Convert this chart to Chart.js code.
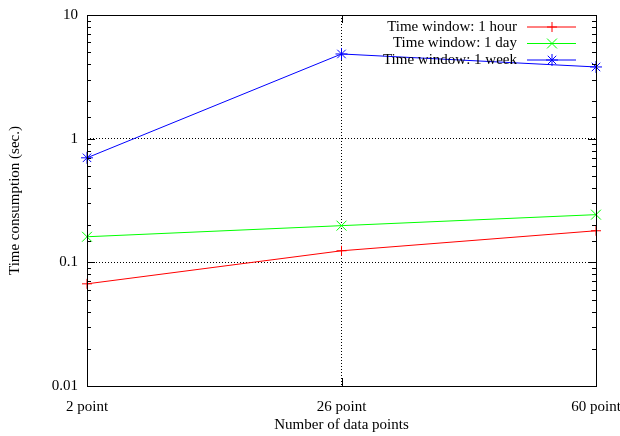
<!DOCTYPE html>
<html>
<head>
<meta charset="utf-8">
<script src="https://cdn.jsdelivr.net/npm/chart.js@4"></script>
<style>
  html, body { margin: 0; padding: 0; background: #fff; }
  #wrap { width: 620px; height: 436px; }
</style>
</head>
<body>
<div id="wrap"><canvas id="myChart"></canvas></div>
<script>
/*  time consumption vs number of data points (log scale)  */

const categories = ['2 point', '26 point', '60 point'];
const hourValues = [0.067, 0.124, 0.18];
const dayValues = [0.161, 0.198, 0.243];
const weekValues = [0.70, 4.84, 3.8];
const seriesLabels = ['Time window: 1 hour', 'Time window: 1 day', 'Time window: 1 week'];
const yMin = 0.01, yMax = 10;

const FONT = 'Liberation Serif';

function isDecade(v) {
    const l = Math.log10(v);
    return Math.abs(l - Math.round(l)) < 1e-6;
}

// frame, inward ticks and legend in gnuplot style
const gnuplotFrame = {
    id: 'gnuplotFrame',
    afterDraw(chart) {
        const c = chart.ctx, a = chart.chartArea;
        const y = chart.scales.y, x = chart.scales.x;
        c.save();
        c.strokeStyle = '#000';
        c.lineWidth = 1;
        c.beginPath();
        y.ticks.forEach(t => {
            const py = Math.round(y.getPixelForValue(t.value)) + 0.5;
            const len = isDecade(t.value) ? 8 : 4;
            c.moveTo(a.left, py); c.lineTo(a.left + len, py);
            c.moveTo(a.right, py); c.lineTo(a.right - len, py);
        });
        x.ticks.forEach((t, i) => {
            const px = Math.round(x.getPixelForValue(i)) + 0.5;
            c.moveTo(px, a.bottom); c.lineTo(px, a.bottom - 8);
            c.moveTo(px, a.top); c.lineTo(px, a.top + 8);
        });
        c.stroke();
        c.strokeRect(Math.round(a.left) + 0.5, Math.round(a.top) + 0.5,
            Math.round(a.right - a.left), Math.round(a.bottom - a.top));

        // legend
        c.font = '15px "' + FONT + '"';
        c.textAlign = 'right';
        c.textBaseline = 'middle';
        chart.data.datasets.forEach((ds, i) => {
            const ly = a.top + 12 + i * 16.5;
            c.fillStyle = '#000';
            c.fillText(ds.label, a.right - 79, ly);
            c.strokeStyle = ds.borderColor;
            c.fillStyle = ds.borderColor;
            c.lineWidth = 1;
            c.beginPath();
            c.moveTo(a.right - 69, ly); c.lineTo(a.right - 20, ly);
            c.stroke();
            Chart.helpers.drawPoint(c, {
                pointStyle: ds.pointStyle, radius: ds.pointRadius,
                borderWidth: 1, rotation: 0
            }, a.right - 44, ly);
        });
        c.restore();
    }
};

const ctx = document.getElementById('myChart').getContext('2d');
const chart = new Chart(ctx, {
    type: 'line',
    data: {
        labels: categories,
        datasets: [{
            label: seriesLabels[0],
            data: hourValues,
            borderColor: '#ff0000',
            backgroundColor: '#ff0000',
            borderWidth: 1,
            pointStyle: 'cross',
            pointRadius: 5,
            pointBorderWidth: 1
        }, {
            label: seriesLabels[1],
            data: dayValues,
            borderColor: '#00ff00',
            backgroundColor: '#00ff00',
            borderWidth: 1,
            pointStyle: 'crossRot',
            pointRadius: 7,
            pointBorderWidth: 1
        }, {
            label: seriesLabels[2],
            data: weekValues,
            borderColor: '#0000ff',
            backgroundColor: '#0000ff',
            borderWidth: 1,
            pointStyle: 'star',
            pointRadius: 6,
            pointBorderWidth: 1
        }]
    },
    options: {
        responsive: true,
        maintainAspectRatio: false,
        animation: false,
        layout: { padding: { left: 0, right: 24, top: 15, bottom: 0 } },
        plugins: {
            legend: { display: false },
            tooltip: { enabled: false }
        },
        scales: {
            x: {
                offset: false,
                border: { display: false, dash: [1, 2] },
                grid: {
                    drawTicks: false,
                    color: ctx => (ctx.index === 1 ? '#000' : 'rgba(0,0,0,0)')
                },
                ticks: {
                    padding: 12,
                    maxRotation: 0,
                    color: '#000',
                    font: { family: FONT, size: 15 }
                },
                title: {
                    display: true,
                    text: 'Number of data points',
                    color: '#000',
                    font: { family: FONT, size: 15 },
                    padding: { top: 4, bottom: 2 }
                },
                afterFit: s => { s.height = 50; s.paddingLeft = 0; s.paddingRight = 0; }
            },
            y: {
                type: 'logarithmic',
                min: yMin,
                max: yMax,
                border: { display: false, dash: [1, 2] },
                grid: {
                    drawTicks: false,
                    color: ctx => {
                        const v = ctx.tick && ctx.tick.value;
                        return (v && isDecade(v) && v > yMin * 1.01 && v < yMax * 0.99) ? '#000' : 'rgba(0,0,0,0)';
                    }
                },
                ticks: {
                    autoSkip: false,
                    padding: 9,
                    color: '#000',
                    font: { family: FONT, size: 15 },
                    callback: v => (isDecade(v) ? String(+v.toPrecision(3)) : '')
                },
                title: {
                    display: true,
                    text: 'Time consumption (sec.)',
                    color: '#000',
                    font: { family: FONT, size: 15 },
                    padding: { top: 6, bottom: 4 }
                },
                afterFit: s => { s.width = 87; s.paddingTop = 0; s.paddingBottom = 0; }
            }
        }
    },
    plugins: [gnuplotFrame]
});
</script>
</body>
</html>
